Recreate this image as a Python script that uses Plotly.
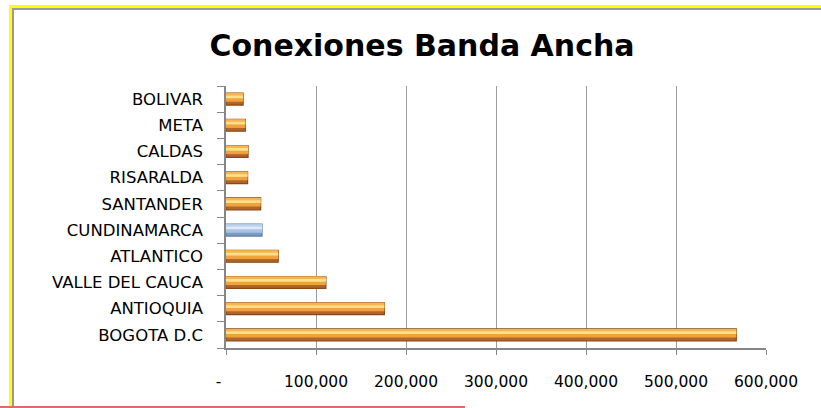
import plotly.graph_objects as go

# data (bottom to top, as in the reference)
departamentos = ["BOGOTA D.C", "ANTIOQUIA", "VALLE DEL CAUCA", "ATLANTICO",
                 "CUNDINAMARCA", "SANTANDER", "RISARALDA", "CALDAS", "META", "BOLIVAR"]
conexiones = [567000, 176000, 111000, 58000, 40000, 38500, 24000, 24500, 21500, 19000]
resaltado = "CUNDINAMARCA"

tick_vals = [0, 100000, 200000, 300000, 400000, 500000, 600000]
tick_text = ["-\u00a0\u00a0\u00a0", "100,000", "200,000", "300,000", "400,000", "500,000", "600,000"]

W, H = 821, 408
PL, PR, PT, PB = 226, 766, 86, 348  # plot box in pixels


def px_x(x):
    return (x - PL) / (PR - PL)


def px_y(y):
    return (PB - y) / (PB - PT)


def capas(naranja, azul):
    return [azul if d == resaltado else naranja for d in departamentos]


fig = go.Figure()

# barras "cilindro": capas superpuestas
layers = [
    # offset, width, naranja, azul
    (-0.228, 0.456, "#ad662b", "#7c9bc4"),
    (-0.1, 0.328, "#f2a23c", "#a8c3e3"),
    (0.136, 0.092, "#f6b452", "#bcd2ec"),
    (0.031, 0.105, "#fde08a", "#dde9f7"),
]
for i, (off, wd, c1, c2) in enumerate(layers):
    fig.add_trace(go.Bar(
        x=conexiones, y=departamentos, orientation="h",
        offset=off, width=wd,
        marker=dict(color=capas(c1, c2),
                    line=dict(width=1.2 if i == 0 else 0,
                              color=capas("#8a4816", "#5f7fa8"))),
        showlegend=False, hoverinfo="skip",
    ))

# marco del grafico
shapes = [
    dict(type="line", xref="paper", yref="paper",
         x0=px_x(10.5), x1=px_x(W + 5), y0=px_y(6.5), y1=px_y(6.5),
         line=dict(color="#ffff00", width=3)),
    dict(type="line", xref="paper", yref="paper",
         x0=px_x(10.5), x1=px_x(10.5), y0=px_y(5), y1=px_y(H + 5),
         line=dict(color="#ffff00", width=3)),
    dict(type="line", xref="paper", yref="paper",
         x0=px_x(13), x1=px_x(W + 5), y0=px_y(9), y1=px_y(9),
         line=dict(color="#9a9a9a", width=2)),
    dict(type="line", xref="paper", yref="paper",
         x0=px_x(13), x1=px_x(13), y0=px_y(8), y1=px_y(H + 5),
         line=dict(color="#9a9a9a", width=2)),
    dict(type="line", xref="paper", yref="paper",
         x0=px_x(0), x1=px_x(465), y0=px_y(407), y1=px_y(407),
         line=dict(color="#e06a6a", width=2)),
]

fig.update_layout(
    width=W, height=H,
    margin=dict(l=PL, r=W - PR, t=PT, b=H - PB),
    barmode="overlay",
    plot_bgcolor="white", paper_bgcolor="white",
    font=dict(family="DejaVu Sans", color="#000000"),
    title=dict(text="<b>Conexiones Banda Ancha</b>",
               x=422 / W, xanchor="center", xref="container",
               y=1 - 45 / H, yanchor="middle", yref="container",
               font=dict(family="DejaVu Sans", size=30, color="#000000")),
    xaxis=dict(range=[0, 600000], tickvals=tick_vals, ticktext=tick_text,
               showgrid=True, gridcolor="#9c9c9c", gridwidth=1,
               showline=True, linecolor="#868686", linewidth=1.5,
               ticks="outside", ticklen=5, tickcolor="#868686",
               ticklabelstandoff=14,
               tickfont=dict(size=15.5, color="#000000"),
               zeroline=False, fixedrange=True),
    yaxis=dict(type="category", categoryorder="array", categoryarray=departamentos,
               range=[-0.5, 9.5], tickson="boundaries",
               showgrid=False, showline=True, linecolor="#868686", linewidth=1.5,
               ticks="outside", ticklen=7, tickcolor="#868686",
               ticklabelstandoff=18,
               tickfont=dict(size=16.5, color="#000000"),
               zeroline=False, fixedrange=True),
    shapes=shapes,
)

fig.write_html("out.html", config={"displayModeBar": False},
               post_script="document.body.style.margin='0';"
                           "document.body.style.overflow='hidden';")
